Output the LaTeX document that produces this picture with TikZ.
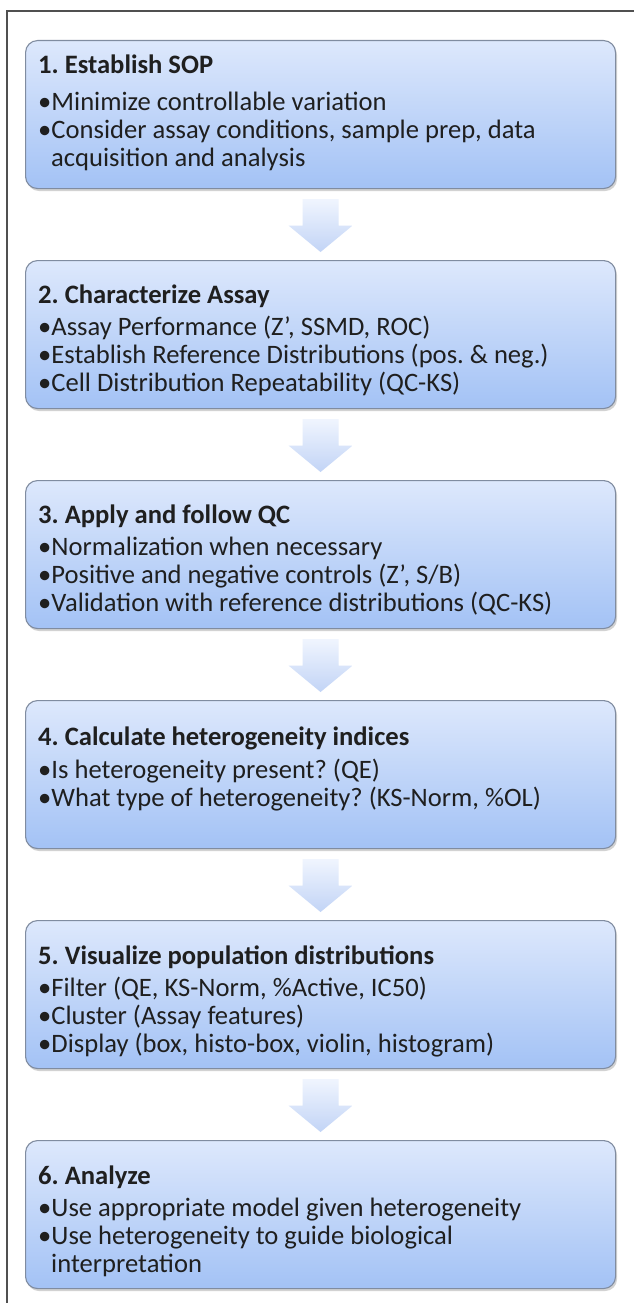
\documentclass[tikz,border=0pt]{standalone}
\usepackage{fontspec}
\setmainfont{Carlito}
\usetikzlibrary{calc,shadows}
\definecolor{boxtop}{RGB}{221,232,252}
\definecolor{boxbot}{RGB}{163,194,245}
\definecolor{boxline}{RGB}{128,140,160}
\definecolor{arrtop}{RGB}{240,245,254}
\definecolor{arrbot}{RGB}{194,212,246}
\definecolor{framecol}{RGB}{80,80,80}
\newcommand\firststrut{\rule{0pt}{22pt}}
\newcommand\contind{\hspace*{13pt}}
\tikzset{
  stepbox/.style={draw=boxline, line width=1.1pt, rounded corners=12pt,
    top color=boxtop, bottom color=boxbot, minimum width=590pt,
    minimum height=148pt, anchor=north west, inner sep=0pt,
    drop shadow={opacity=0.35, shadow xshift=1.5pt, shadow yshift=-2.5pt}},
  steptext/.style={anchor=north west, align=left, inner sep=0pt,
    font=\fontsize{26.6}{28}\selectfont\frenchspacing, text=black!88},
  flowarrow/.style={top color=arrtop, bottom color=arrbot, draw=none}
}
\newcommand\flowarr[2]{%
  \path[flowarrow] let \p1=($(#1.south)+(0,-10pt)$), \p2=($(#2.north)+(0,8pt)$),
    \n1={(\y1+\y2)/2} in
    (\x1-18pt,\y1) -- (\x1+18pt,\y1) -- (\x1+18pt,\n1) -- (\x1+32pt,\n1)
    -- (\x1,\y2) -- (\x1-32pt,\n1) -- (\x1-18pt,\n1) -- cycle;}
\begin{document}
\begin{tikzpicture}[x=1pt,y=1pt]
\useasboundingbox (0,0) rectangle (634,-1303);
\fill[white] (0,0) rectangle (634,-1303);
\draw[framecol, line width=2pt] (7,-1303) -- (7,-11) -- (634,-11);

\node[stepbox] (b1) at (25,-40) {};
\node[stepbox] (b2) at (25,-260) {};
\node[stepbox] (b3) at (25,-480) {};
\node[stepbox] (b4) at (25,-700) {};
\node[stepbox] (b5) at (25,-920) {};
\node[stepbox] (b6) at (25,-1140) {};

\node[steptext] (t1) at ([xshift=13pt,yshift=-11pt]b1.north west)
 {\firststrut\textbf{1. Establish SOP}\\[9pt]
  •Minimize controllable variation\\
  •Consider assay conditions, sample prep, data\\
  \contind acquisition and analysis};
\node[steptext] (t2) at ([xshift=13pt,yshift=-21pt]b2.north west)
 {\firststrut\textbf{2. Characterize Assay}\\[4pt]
  •Assay Performance (Z’, SSMD, ROC)\\
  •Establish Reference Distributions (pos. \& neg.)\\
  •Cell Distribution Repeatability (QC-KS)};
\node[steptext] (t3) at ([xshift=13pt,yshift=-21pt]b3.north west)
 {\firststrut\textbf{3. Apply and follow QC}\\[4pt]
  •Normalization when necessary\\
  •Positive and negative controls (Z’, S/B)\\
  •Validation with reference distributions (QC-KS)};
\node[steptext] (t4) at ([xshift=13pt,yshift=-23pt]b4.north west)
 {\firststrut\textbf{4. Calculate heterogeneity indices}\\[5pt]
  •Is heterogeneity present? (QE)\\
  •What type of heterogeneity? (KS-Norm, \%OL)};
\node[steptext] (t5) at ([xshift=13pt,yshift=-22pt]b5.north west)
 {\firststrut\textbf{5. Visualize population distributions}\\[4pt]
  •Filter (QE, KS-Norm, \%Active, IC50)\\
  •Cluster (Assay features)\\
  •Display (box, histo-box, violin, histogram)};
\node[steptext] (t6) at ([xshift=13pt,yshift=-22pt]b6.north west)
 {\firststrut\textbf{6. Analyze}\\[4pt]
  •Use appropriate model given heterogeneity\\
  •Use heterogeneity to guide biological\\
  \contind interpretation};

\flowarr{b1}{b2}
\flowarr{b2}{b3}
\flowarr{b3}{b4}
\flowarr{b4}{b5}
\flowarr{b5}{b6}
\end{tikzpicture}
\end{document}
